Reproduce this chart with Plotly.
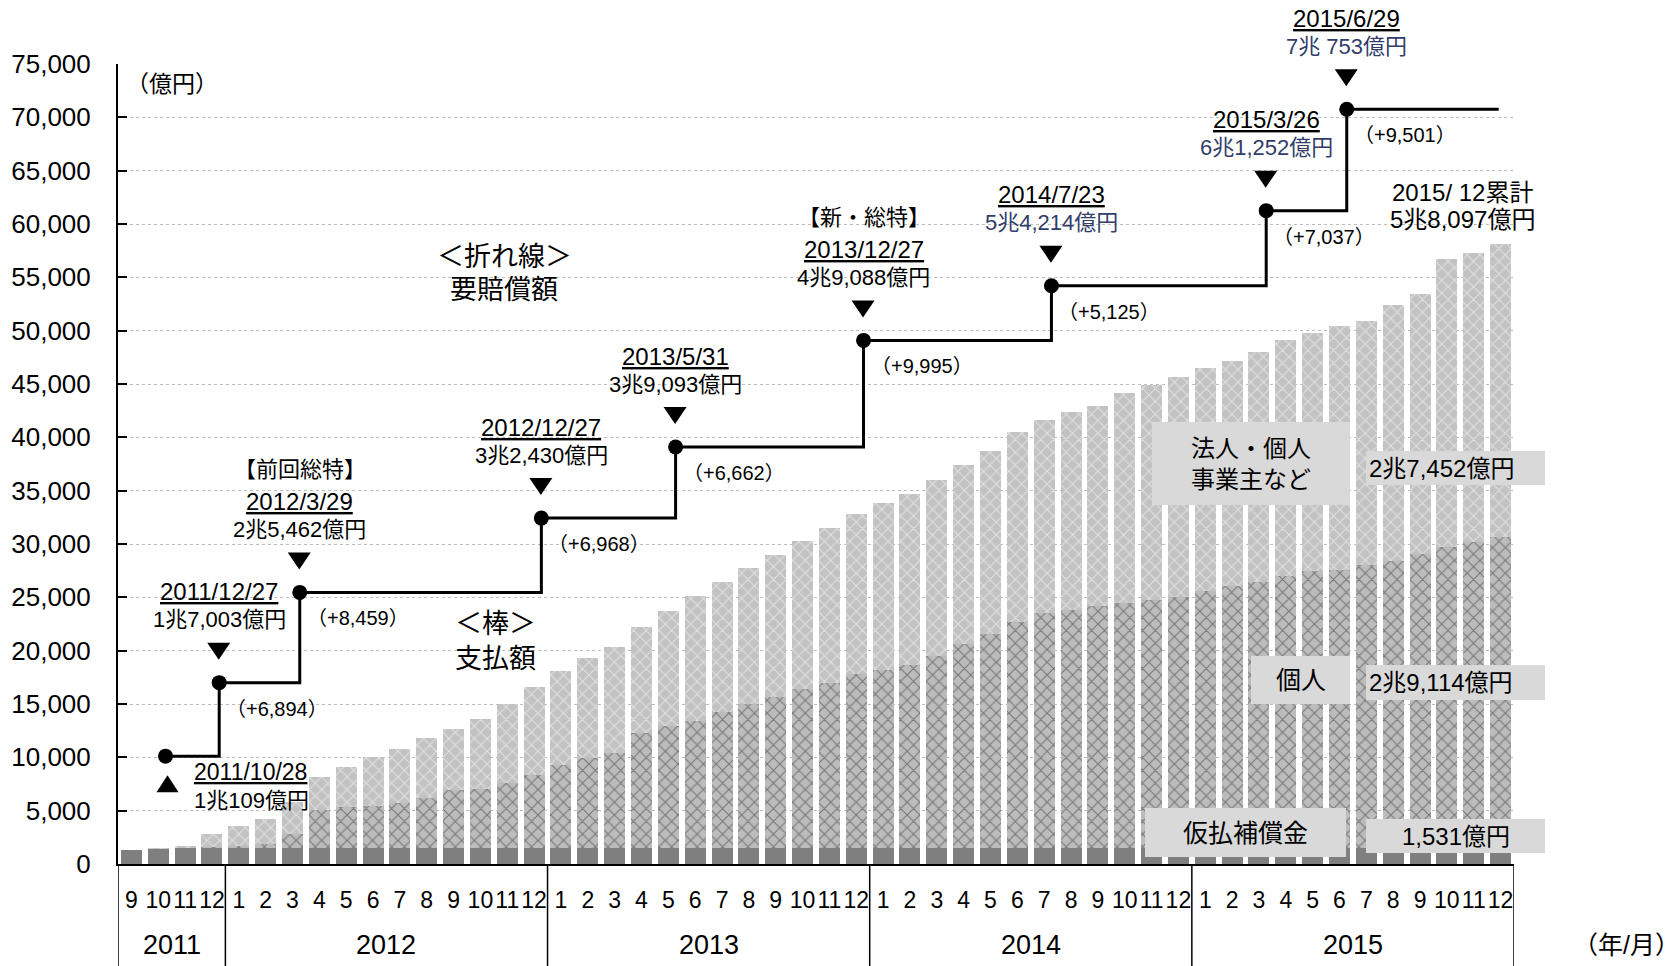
import plotly.graph_objects as go

# ---- data (億円) -------------------------------------------------------
month_labels = ["9", "10", "11", "12"] + [str(m) for m in range(1, 13)] * 4
years = ["2011", "2012", "2013", "2014", "2015"]
months_per_year = [4, 12, 12, 12, 12]

# 仮払補償金
provisional = [1312, 1450, 1490, 1500, 1500, 1500, 1510, 1510, 1510, 1510, 1510, 1510,
               1520, 1520, 1520, 1520, 1520, 1520, 1520, 1520, 1520, 1520, 1520, 1520,
               1520, 1520, 1520, 1520, 1520, 1520, 1520, 1520, 1520, 1520, 1520, 1520,
               1520, 1520, 1520, 1520, 1530, 1530, 1530, 1530, 1530, 1530, 1530, 1530,
               1530, 1530, 1530, 1531]
# 個人
individual = [0, 0, 0, 100, 200, 400, 1290, 3590, 3790, 3940, 4190, 4640,
              5380, 5480, 6040, 6820, 7760, 8380, 8855, 10780, 11380, 11880, 12710, 13440,
              14090, 14890, 15430, 16270, 16700, 17180, 17970, 19060, 20030, 21190, 22020, 22310,
              22640, 22930, 23260, 23550, 24080, 24490, 24870, 25490, 25920, 26050, 26480, 26920,
              27560, 28210, 28640, 29114]
# 法人・個人事業主など
business = [0, 50, 230, 1180, 1860, 2320, 3000, 3090, 3825, 4550, 5070, 5630,
            5756, 6594, 7471, 8220, 8814, 9381, 10000, 9887, 10787, 11700, 12230, 12810,
            13390, 13900, 14560, 15025, 15610, 15970, 16520, 16810, 17200, 17760, 18050, 18580,
            18790, 19660, 20110, 20570, 20850, 21180, 21600, 22110, 22330, 22850, 22850, 23920,
            24350, 26940, 27150, 27452]

# 要賠償額 (step line)
claim_dates = ["2011/10/28", "2011/12/27", "2012/3/29", "2012/12/27", "2013/5/31",
               "2013/12/27", "2014/7/23", "2015/3/26", "2015/6/29"]
claim_values = [10109, 17003, 25462, 32430, 39093, 49088, 54214, 61252, 70753]
claim_texts = ["1兆109億円", "1兆7,003億円", "2兆5,462億円", "3兆2,430億円", "3兆9,093億円",
               "4兆9,088億円", "5兆4,214億円", "6兆1,252億円", "7兆 753億円"]
claim_increments = ["", "（+6,894）", "（+8,459）", "（+6,968）", "（+6,662）",
                    "（+9,995）", "（+5,125）", "（+7,037）", "（+9,501）"]
plan_notes = {2: "【前回総特】", 5: "【新・総特】"}
navy_from = 6

total_text = ["2015/ 12累計", "5兆8,097億円"]
series_totals = ["2兆7,452億円", "2兆9,114億円", "1,531億円"]

# ---- styling ------------------------------------------------------------
FONT = "Liberation Sans, Noto Sans CJK JP, sans-serif"
NAVY = "#323D6B"
BOX = "#D9D9D9"
L, R, T, B = 118, 166, 64, 102
W, H = 1680, 966
PW, PH = W - L - R, H - T - B


def fx(px):
    return (px - L) / PW


def fy(py):
    return (H - B - py) / PH


def month_index(date):
    y, m, _ = (int(v) for v in date.split("/"))
    return (y - 2011) * 12 + (m - 9)


DOT_SHIFT = 0.27
dot_x = [month_index(d) + DOT_SHIFT for d in claim_dates]
line_end = len(month_labels) - 1 - 0.07

xs = list(range(len(month_labels)))

fig = go.Figure()
fig.add_bar(x=xs, y=provisional, marker=dict(color="#7F7F7F", line_width=0))
fig.add_bar(x=xs, y=individual,
            marker=dict(color="#C0C0C0", line_width=0,
                        pattern=dict(shape="x", fgcolor="#363636", bgcolor="#BCBCBC",
                                     size=9, solidity=0.24)))
fig.add_bar(x=xs, y=business,
            marker=dict(color="#C8C8C8", line_width=0,
                        pattern=dict(shape="x", fgcolor="#FFFFFF", bgcolor="#C2C2C2",
                                     size=9, solidity=0.22)))

fig.add_scatter(x=dot_x + [line_end], y=claim_values + [claim_values[-1]], mode="lines",
                line=dict(color="black", width=3, shape="hv"), hoverinfo="skip")
fig.add_scatter(x=dot_x, y=claim_values, mode="markers",
                marker=dict(color="black", size=15), cliponaxis=False)

ann = []
shapes = []

# labels around each claim step
for i, (xv, yv) in enumerate(zip(dot_x, claim_values)):
    amount_color = NAVY if i >= navy_from else "black"
    if i == 0:
        shapes.append(dict(type="path", xref="x", yref="y", xsizemode="pixel", ysizemode="pixel",
                           xanchor=xv, yanchor=yv, path="M -9,-36 L 13,-36 L 2,-19 Z",
                           fillcolor="black", line_width=0, layer="above"))
        ann.append(dict(x=xv, y=yv, text="<u>" + claim_dates[i] + "</u>", xanchor="left",
                        yanchor="middle", xshift=26, yshift=-16, showarrow=False,
                        font=dict(size=23, color="black")))
        ann.append(dict(x=xv, y=yv, text=claim_texts[i], xanchor="left",
                        yanchor="middle", xshift=26, yshift=-44, showarrow=False,
                        font=dict(size=22, color=amount_color)))
        continue
    shapes.append(dict(type="path", xref="x", yref="y", xsizemode="pixel", ysizemode="pixel",
                       xanchor=xv, yanchor=yv, path="M -12,40 L 11,40 L -0.5,23 Z",
                       fillcolor="black", line_width=0, layer="above"))
    ann.append(dict(x=xv, y=yv, text=claim_texts[i], xanchor="center", yanchor="middle",
                    yshift=63, showarrow=False, font=dict(size=22, color=amount_color)))
    ann.append(dict(x=xv, y=yv, text="<u>" + claim_dates[i] + "</u>", xanchor="center",
                    yanchor="middle", yshift=91, showarrow=False,
                    font=dict(size=24, color="black")))
    if i in plan_notes:
        ann.append(dict(x=xv, y=yv, text=plan_notes[i], xanchor="center", yanchor="middle",
                        yshift=123, showarrow=False, font=dict(size=22, color="black")))
    ann.append(dict(x=xv, y=yv, text=claim_increments[i], xanchor="left", yanchor="middle",
                    xshift=5, yshift=-26, showarrow=False,
                    font=dict(size=20, color="black")))

# cumulative total above the last bar
last = len(xs) - 1
last_total = provisional[last] + individual[last] + business[last]
ann.append(dict(x=last, y=last_total, text=total_text[0], xanchor="center", yanchor="middle",
                xshift=-38, yshift=52, showarrow=False, font=dict(size=24)))
ann.append(dict(x=last, y=last_total, text=total_text[1], xanchor="center", yanchor="middle",
                xshift=-38, yshift=25, showarrow=False, font=dict(size=24)))


def text_box(x0, y0, x1, y1, text, size, align="center", pad=0):
    shapes.append(dict(type="rect", xref="paper", yref="paper", x0=fx(x0), x1=fx(x1),
                       y0=fy(y1), y1=fy(y0), fillcolor=BOX, line_width=0, layer="above"))
    if align == "left":
        ann.append(dict(xref="paper", yref="paper", x=fx(x0 + pad), y=fy((y0 + y1) / 2),
                        xanchor="left", yanchor="middle", text=text, showarrow=False,
                        font=dict(size=size)))
    else:
        ann.append(dict(xref="paper", yref="paper", x=fx((x0 + x1) / 2), y=fy((y0 + y1) / 2),
                        xanchor="center", yanchor="middle", text=text, showarrow=False,
                        font=dict(size=size), align="center"))


text_box(1152, 422, 1350, 505, "法人・個人<br>事業主など", 24)
text_box(1366, 451, 1545, 485, series_totals[0], 24, align="left", pad=1)
text_box(1251, 656, 1350, 704, "個人", 25)
text_box(1366, 665, 1545, 700, series_totals[1], 24, align="left", pad=1)
text_box(1145, 808, 1346, 857, "仮払補償金", 25)
text_box(1366, 819, 1545, 853, series_totals[2], 24)

# free-floating captions
for text, cx, cy, size in [("＜折れ線＞", 504, 257, 27), ("要賠償額", 504, 290, 27),
                           ("＜棒＞", 495, 624, 27), ("支払額", 495, 659, 27),
                           ("（億円）", 172, 84, 23)]:
    ann.append(dict(xref="paper", yref="paper", x=fx(cx), y=fy(cy), text=text,
                    xanchor="center", yanchor="middle", showarrow=False, font=dict(size=size)))

# year row and dividers under the month labels
start = -0.5
bounds = [start]
for n in months_per_year:
    bounds.append(bounds[-1] + n)
for yr, a, b in zip(years, bounds[:-1], bounds[1:]):
    ann.append(dict(x=(a + b) / 2, xref="x", y=0, yref="paper", yshift=-81, text=yr,
                    xanchor="center", yanchor="middle", showarrow=False, font=dict(size=27)))
for b in bounds:
    shapes.append(dict(type="line", xref="x", yref="paper", x0=b, x1=b, y0=0, y1=-0.14,
                       line=dict(color="black", width=1.5)))
ann.append(dict(xref="paper", yref="paper", x=fx(1626), y=0, yshift=-81, text="（年/月）",
                xanchor="center", yanchor="middle", showarrow=False, font=dict(size=25)))

fig.update_layout(
    width=W, height=H, margin=dict(l=L, r=R, t=T, b=B, pad=0),
    paper_bgcolor="white", plot_bgcolor="white",
    barmode="stack", bargap=0.22, showlegend=False,
    font=dict(family=FONT, color="black", size=20),
    annotations=ann, shapes=shapes,
    xaxis=dict(range=[-0.5, len(xs) - 0.5], tickmode="array", tickvals=xs,
               ticktext=month_labels, tickfont=dict(size=23), ticks="",
               showline=True, linecolor="black", linewidth=2, showgrid=False,
               zeroline=False, ticklabelstandoff=14),
    yaxis=dict(range=[0, 75000], dtick=5000, tickformat=",", tickfont=dict(size=26),
               showgrid=True, gridcolor="#BDBDBD", griddash="dot", gridwidth=1,
               showline=True, linecolor="black", linewidth=2, ticks="inside",
               ticklen=9, tickwidth=2, tickcolor="black", zeroline=False,
               ticklabelstandoff=20),
)

fig.write_html("out.html")
